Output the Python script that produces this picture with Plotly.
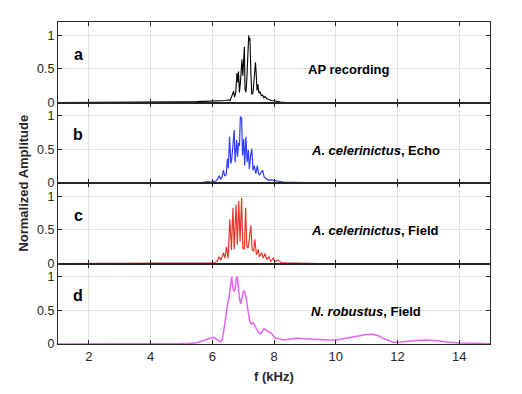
import plotly.graph_objects as go
from plotly.subplots import make_subplots

# ---- data ----
f_a = [1.0, 3.0, 4.0, 4.5, 5.0, 5.5, 6.0, 6.2, 6.35, 6.45,
       6.52, 6.58, 6.62, 6.66, 6.69, 6.72, 6.76, 6.80, 6.83, 6.85,
       6.88, 6.92, 6.96, 6.99, 7.01, 7.04, 7.06, 7.09, 7.12, 7.15,
       7.18, 7.20, 7.22, 7.25, 7.28, 7.32, 7.36, 7.40, 7.42, 7.45,
       7.48, 7.51, 7.55, 7.59, 7.63, 7.67, 7.71, 7.76, 7.82, 7.90,
       8.0, 8.1, 8.2, 8.35, 9.0, 15.0]
amp_a = [0.0, 0.0, 0.003, 0.006, 0.01, 0.013, 0.018, 0.02, 0.025, 0.03,
         0.04, 0.03, 0.08, 0.12, 0.17, 0.08, 0.15, 0.44, 0.30, 0.46,
         0.15, 0.35, 0.64, 0.40, 0.70, 0.83, 0.20, 0.15, 0.35, 0.80,
         1.0, 0.92, 0.96, 0.45, 0.12, 0.15, 0.35, 0.60, 0.45, 0.18,
         0.27, 0.14, 0.16, 0.10, 0.11, 0.07, 0.09, 0.06, 0.05, 0.03,
         0.025, 0.015, 0.008, 0.002, 0.0, 0.0]

f_b = [1.0, 5.5, 5.7, 5.85, 5.95, 6.05, 6.12, 6.18, 6.22, 6.27,
       6.32, 6.36, 6.40, 6.45, 6.49, 6.52, 6.56, 6.60, 6.63, 6.66,
       6.71, 6.74, 6.76, 6.79, 6.82, 6.85, 6.88, 6.91, 6.95, 6.98,
       7.02, 7.05, 7.09, 7.13, 7.17, 7.20, 7.24, 7.28, 7.32, 7.36,
       7.41, 7.46, 7.50, 7.54, 7.58, 7.63, 7.68, 7.74, 7.82, 7.90,
       7.98, 8.1, 8.3, 8.6, 9.0, 9.5, 10.0, 15.0]
amp_b = [0.0, 0.0, 0.01, 0.02, 0.015, 0.025, 0.03, 0.06, 0.11, 0.06,
         0.09, 0.19, 0.11, 0.12, 0.36, 0.22, 0.69, 0.29, 0.35, 0.51,
         0.79, 0.31, 0.45, 0.64, 0.39, 0.60, 0.55, 0.99, 0.97, 0.41,
         0.66, 0.26, 0.69, 0.31, 0.49, 0.21, 0.40, 0.51, 0.19, 0.26,
         0.14, 0.26, 0.14, 0.12, 0.16, 0.19, 0.09, 0.07, 0.04, 0.045,
         0.04, 0.025, 0.015, 0.01, 0.008, 0.004, 0.0, 0.0]

f_c = [1.0, 5.6, 5.75, 5.9, 6.05, 6.15, 6.22, 6.28, 6.36, 6.41,
       6.46, 6.51, 6.57, 6.62, 6.67, 6.71, 6.77, 6.81, 6.86, 6.90,
       6.95, 6.99, 7.04, 7.08, 7.12, 7.16, 7.20, 7.25, 7.29, 7.34,
       7.38, 7.43, 7.49, 7.53, 7.60, 7.65, 7.71, 7.76, 7.84, 7.90,
       7.98, 8.04, 8.14, 8.22, 8.4, 8.7, 9.0, 9.5, 15.0]
amp_c = [0.0, 0.0, 0.005, 0.01, 0.015, 0.03, 0.10, 0.05, 0.16, 0.08,
         0.25, 0.08, 0.66, 0.20, 0.83, 0.21, 0.88, 0.28, 0.93, 0.33,
         0.98, 0.23, 0.21, 0.83, 0.26, 0.23, 0.36, 0.57, 0.21, 0.18,
         0.36, 0.13, 0.21, 0.10, 0.16, 0.08, 0.15, 0.06, 0.10, 0.03,
         0.08, 0.03, 0.05, 0.015, 0.01, 0.005, 0.005, 0.0, 0.0]

f_d = [1.0, 4.0, 4.5, 5.0, 5.3, 5.5, 5.65, 5.82, 5.95, 6.02,
       6.08, 6.15, 6.22, 6.28, 6.33, 6.38, 6.43, 6.49, 6.55, 6.60,
       6.63, 6.66, 6.70, 6.74, 6.78, 6.81, 6.84, 6.88, 6.92, 6.97,
       7.02, 7.06, 7.10, 7.14, 7.18, 7.22, 7.27, 7.32, 7.38, 7.44,
       7.50, 7.56, 7.62, 7.68, 7.73, 7.79, 7.85, 7.92, 7.98, 8.05,
       8.15, 8.3, 8.5, 8.75, 9.0, 9.25, 9.5, 9.75, 10.0, 10.25,
       10.5, 10.75, 11.0, 11.2, 11.4, 11.55, 11.7, 11.87, 12.1, 12.5,
       12.95, 13.3, 13.6, 14.0, 14.5, 15.0]
amp_d = [0.0, 0.0, 0.003, 0.006, 0.012, 0.02, 0.04, 0.07, 0.09, 0.10,
         0.09, 0.06, 0.04, 0.035, 0.08, 0.22, 0.42, 0.58, 0.72, 0.95,
         1.0, 0.85, 0.78, 0.82, 0.98, 1.0, 0.85, 0.68, 0.60, 0.72,
         0.80, 0.76, 0.68, 0.55, 0.42, 0.33, 0.30, 0.32, 0.27, 0.22,
         0.17, 0.15, 0.20, 0.23, 0.21, 0.19, 0.17, 0.16, 0.12, 0.09,
         0.08, 0.06, 0.07, 0.085, 0.08, 0.07, 0.065, 0.06, 0.06, 0.08,
         0.10, 0.12, 0.14, 0.145, 0.12, 0.08, 0.05, 0.025, 0.03, 0.05,
         0.06, 0.05, 0.03, 0.015, 0.01, 0.003]

panel_letters = ["a", "b", "c", "d"]
panel_titles = ["AP recording",
                "<i>A. celerinictus</i>, Echo",
                "<i>A. celerinictus</i>, Field",
                "<i>N. robustus</i>, Field"]
x_ticks = [2, 4, 6, 8, 10, 12, 14]
y_ticks = [0, 0.5, 1]
y_tick_text = ["0", "0.5", "1"]

series = [(f_a, amp_a, "#000000", 1.1),
          (f_b, amp_b, "#2f3ff5", 1.2),
          (f_c, amp_c, "#e5382c", 1.2),
          (f_d, amp_d, "#e463f0", 1.5)]

TXT = "#262626"
FONT = "Liberation Sans, Arial, Helvetica, sans-serif"

fig = make_subplots(rows=4, cols=1, shared_xaxes=True, vertical_spacing=0)

for i, (fx, ay, col, lw) in enumerate(series):
    fig.add_trace(go.Scatter(x=fx, y=ay, mode="lines",
                             line=dict(color=col, width=lw),
                             showlegend=False, hoverinfo="skip"),
                  row=i + 1, col=1)

for i in range(4):
    r = i + 1
    fig.update_xaxes(range=[1, 15], tickvals=x_ticks,
                     ticks="inside", ticklen=4, tickwidth=1, tickcolor=TXT,
                     showline=True, linecolor=TXT, linewidth=1, mirror="ticks",
                     showgrid=True, gridcolor="#e2e2e2", gridwidth=1,
                     zeroline=False, showticklabels=(r == 4),
                     tickfont=dict(size=13, color=TXT, family=FONT),
                     row=r, col=1)
    fig.update_yaxes(range=[0, 1.2], tickvals=y_ticks, ticktext=y_tick_text,
                     ticks="inside", ticklen=4, tickwidth=1, tickcolor=TXT,
                     showline=True, linecolor=TXT, linewidth=1, mirror="ticks",
                     showgrid=True, gridcolor="#e2e2e2", gridwidth=1,
                     zeroline=False,
                     tickfont=dict(size=12.5, color=TXT, family=FONT),
                     row=r, col=1)

annotations = []
for i in range(4):
    xs = "x" if i == 0 else f"x{i + 1}"
    ys = "y" if i == 0 else f"y{i + 1}"
    annotations.append(dict(x=1.65, y=0.72, xref=xs, yref=ys,
                            text=f"<b>{panel_letters[i]}</b>", showarrow=False,
                            font=dict(size=16, color="#000000", family=FONT),
                            xanchor="center", yanchor="middle"))
    annotations.append(dict(x=9.05 if i == 0 else 9.15, y=0.49, xref=xs, yref=ys,
                            text=f"<b>{panel_titles[i]}</b>", showarrow=False,
                            font=dict(size=13, color="#000000", family=FONT),
                            xanchor="left", yanchor="middle"))

annotations.append(dict(x=-0.082, y=0.5, xref="paper", yref="paper",
                        text="<b>Normalized Amplitude</b>", textangle=-90,
                        showarrow=False, xanchor="center", yanchor="middle",
                        font=dict(size=13, color=TXT, family=FONT)))
annotations.append(dict(x=0.5, y=-0.102, xref="paper", yref="paper",
                        text="<b>f (kHz)</b>", showarrow=False,
                        xanchor="center", yanchor="middle",
                        font=dict(size=13, color=TXT, family=FONT)))

# page body adds an 8px offset, so the figure is sized to fit the window
fig.update_layout(width=514, height=386,
                  margin=dict(l=50, r=32, t=14, b=50),
                  paper_bgcolor="white", plot_bgcolor="white",
                  font=dict(family=FONT, color=TXT),
                  annotations=annotations)

fig.write_html("out.html")
